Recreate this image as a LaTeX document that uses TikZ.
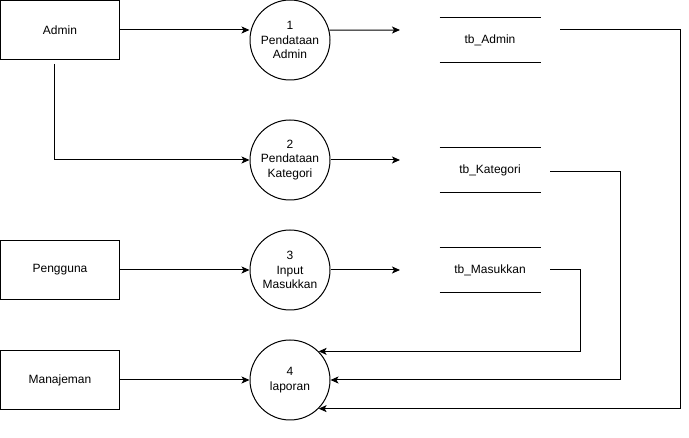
\documentclass[tikz,border=0pt]{standalone}
\usepackage{fontspec}
\setmainfont{Liberation Sans}
\usetikzlibrary{arrows.meta}

\def\procsize{80pt}

\begin{document}
\begin{tikzpicture}[x=1pt,y=-1pt,line width=1pt,draw=black,
	font=\fontsize{12}{14.5}\selectfont]
    \tikzstyle{flow}=[-{Stealth[length=8pt,width=7pt,inset=2pt]}]
    \tikzstyle{entity}=[rectangle,draw=black,minimum width=119pt,minimum height=59pt,inner sep=0pt]
    \tikzstyle{process}=[circle,draw=black,minimum size=\procsize,inner sep=0pt,align=center]
    \tikzstyle{store}=[rectangle,minimum width=100pt,minimum height=44pt,inner sep=0pt]

    \useasboundingbox (0,0) rectangle (689,438);

    % Draw the external entities
        \node[entity] (A) at (60,30) {Admin};
        \node[entity] (U) at (60,270) {Pengguna};
        \node[entity] (M) at (60,380) {Manajeman};

    % Draw the processes
        \node[process] (P-1) at (290,40) {1\\Pendataan\\Admin};
        \node[process] (P-2) at (290,160) {2\\Pendataan\\Kategori};
        \node[process] (P-3) at (290,270) {3\\Input\\Masukkan};
        \node[process] (P-4) at (290,380) {4\\laporan};

    % Draw the data stores
        \node[store] (S-1) at (490,40) {tb\_Admin};
        \node[store] (S-2) at (490,170) {tb\_Kategori};
        \node[store] (S-3) at (490,270) {tb\_Masukkan};
    \foreach \name in {1,...,3}
        \draw (S-\name.north west) -- (S-\name.north east)
              (S-\name.south west) -- (S-\name.south east);

    % Free ends of the flows next to the stores
    \coordinate (a-1) at (400,30);
    \coordinate (a-2) at (400,160);
    \coordinate (a-3) at (400,270);
    \coordinate (o-1) at (560,30);
    \coordinate (o-2) at (550,172);
    \coordinate (o-3) at (550,270);

    % Connect the entities with the processes
    \draw[flow] (A.east) -- (A.east -| P-1.west);
    \draw[flow] ([xshift=-6pt,yshift=-4pt]A.south) |- (P-2.west);
    \draw[flow] (U.east) -- (P-3.west);
    \draw[flow] (M.east) -- (P-4.west);

    % Connect the processes with the stores
    \draw[flow] (P-1.14.5) -- (a-1);
    \draw[flow] (P-2.east) -- (a-2);
    \draw[flow] (P-3.east) -- (a-3);

    % Feed every store back into the report
    \draw[flow] (o-1) -- (680,30) |- (P-4.-45);
    \draw[flow] (o-2) -- (620,172) |- (P-4.east);
    \draw[flow] (o-3) -- (580,270) |- (P-4.45);
\end{tikzpicture}
\end{document}
